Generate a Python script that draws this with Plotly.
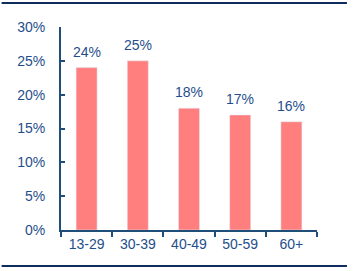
import plotly.graph_objects as go

categories = ["13-29", "30-39", "40-49", "50-59", "60+"]
values = [24, 25, 18, 17, 16]
tick_vals = [0, 5, 10, 15, 20, 25, 30]
tick_text = ["0%", "5%", "10%", "15%", "20%", "25%", "30%"]

TXT = "#1F4E8C"
AX = "#1F4E79"
BAR = "#FF7F7F"

fig = go.Figure(go.Bar(
    x=categories, y=values, marker_color=BAR, width=0.41,
))

for c, v in zip(categories, values):
    fig.add_annotation(x=c, y=v, text=f"{v}%", showarrow=False, yanchor="bottom",
                       yshift=6, font=dict(color=TXT, size=14))

fig.update_layout(
    width=357, height=271,
    margin=dict(l=61, r=40, t=27, b=41),
    paper_bgcolor="white", plot_bgcolor="white",
    font=dict(family="Liberation Sans, Arial", size=14, color=TXT),
    showlegend=False,
    shapes=[
        dict(type="line", xref="paper", yref="paper", x0=-0.232, x1=1.117, y0=1.118, y1=1.118,
             line=dict(color="#0E2C5C", width=2)),
        dict(type="line", xref="paper", yref="paper", x0=-0.232, x1=1.117, y0=-0.177, y1=-0.177,
             line=dict(color="#0E2C5C", width=2)),
    ],
)
fig.update_xaxes(
    showline=True, linecolor=AX, linewidth=2, ticks="outside", ticklen=5, tickwidth=2,
    tickcolor=AX, tickson="boundaries", showgrid=False, tickfont=dict(color=TXT, size=14),
)
fig.update_yaxes(
    range=[0, 30], tickvals=tick_vals, ticktext=tick_text, showline=True, linecolor=AX,
    linewidth=2, ticks="inside", ticklen=4, tickwidth=2, tickcolor=AX, showgrid=False,
    zeroline=False, tickfont=dict(color=TXT, size=14), ticklabelstandoff=11,
)
fig.write_html("out.html")
